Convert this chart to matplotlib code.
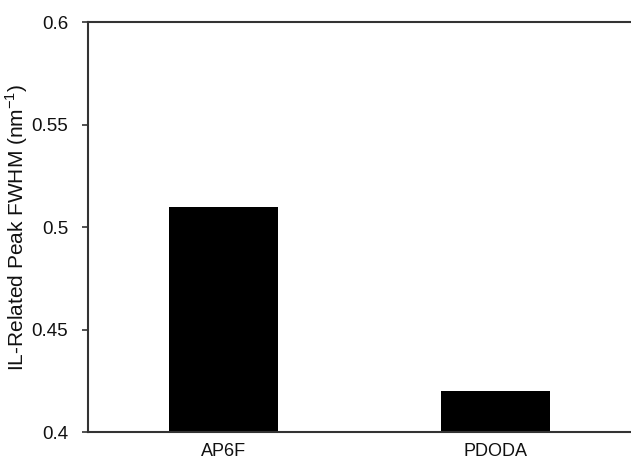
import matplotlib
matplotlib.use("Agg")
import matplotlib.pyplot as plt

categories = ["AP6F", "PDODA"]
values = [0.51, 0.42]
yticks = [0.4, 0.45, 0.5, 0.55, 0.6]
ytick_labels = ["0.4", "0.45", "0.5", "0.55", "0.6"]

plt.rcParams['font.family'] = ['Liberation Sans', 'DejaVu Sans']

fig = plt.figure(figsize=(6.31, 4.61), dpi=100)
ax = fig.add_axes([88/631, 29/461, 1 - 88/631, (432-22)/461])

x = list(range(len(categories)))
ax.bar(x, values, width=0.40, color='black', bottom=0)
ax.set_ylim(0.4, 0.6)
ax.set_xlim(-0.5, 1.5)
ax.set_yticks(yticks)
ax.set_yticklabels(ytick_labels)
ax.set_xticks(x)
ax.set_xticklabels(categories)
ax.tick_params(axis='y', direction='out', length=4.3, width=1.2, colors='#333333', labelcolor='#111111', labelsize=13.5, pad=10)
ax.tick_params(axis='x', length=0, labelsize=13, labelcolor='#111111', pad=8)
ax.spines['right'].set_visible(False)
for s in ['left', 'top', 'bottom']:
    ax.spines[s].set_linewidth(1.5)
    ax.spines[s].set_color('#333333')
ax.set_ylabel("IL-Related Peak FWHM (nm$^{\\mathregular{-1}}$)", fontsize=15, labelpad=1, color='#111111')

fig.savefig("out.png", dpi=100)
